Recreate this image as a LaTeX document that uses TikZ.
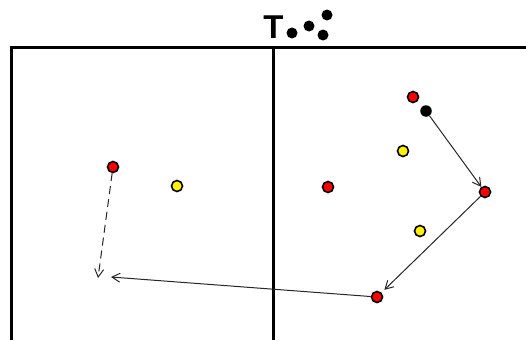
\documentclass[tikz,border=0pt]{standalone}
\usepackage{fontspec}
\setmainfont{Liberation Sans}
\usetikzlibrary{arrows.meta}
\begin{document}
\begin{tikzpicture}[x=1pt,y=-1pt,
  frame/.style={line width=3pt},
  reddot/.style={circle,draw=black,line width=1.6pt,fill=red,minimum size=11pt,inner sep=0pt},
  yeldot/.style={circle,draw=black,line width=1.6pt,fill=yellow,minimum size=11pt,inner sep=0pt},
  blkdot/.style={circle,fill=black,minimum size=11.5pt,inner sep=0pt},
  titledot/.style={circle,fill=black,minimum size=11pt,inner sep=0pt},
  mv/.style={line width=1pt,black!85,-{Straight Barb[length=8pt,width=9pt]}}
]
\useasboundingbox (0,0) rectangle (526,340);
% frame
\draw[frame] (11,340) -- (11,47.5) -- (526,47.5);
\draw[frame] (273.5,47.5) -- (273.5,340);
% title
\node[inner sep=0pt,anchor=base] (T) at (273.5,38) {\fontsize{33}{33}\selectfont\bfseries T};
\node[titledot] (t1) at (292,33) {};
\node[titledot] (t2) at (309,26) {};
\node[titledot] (t3) at (327,15) {};
\node[titledot] (t4) at (323,35) {};
% players
\node[reddot] (L) at (113,167) {};
\node[yeldot] (LY) at (177,186) {};
\node[reddot] (M) at (328,187) {};
\node[reddot] (R1) at (413,97) {};
\node[blkdot] (B) at (426,111) {};
\node[yeldot] (RY1) at (403,151) {};
\node[reddot] (R2) at (485,192) {};
\node[yeldot] (RY2) at (420,231) {};
\node[reddot] (R3) at (377,297) {};
\coordinate (e1) at (98,278);
\coordinate (e2) at (111,277);
% movements
\draw[mv] (B) -- (R2);
\draw[mv,shorten >=4pt] (R2) -- (R3);
\draw[mv] (R3) -- (e2);
\draw[mv,dash pattern=on 8pt off 5pt] (L) -- (e1);
\end{tikzpicture}
\end{document}
